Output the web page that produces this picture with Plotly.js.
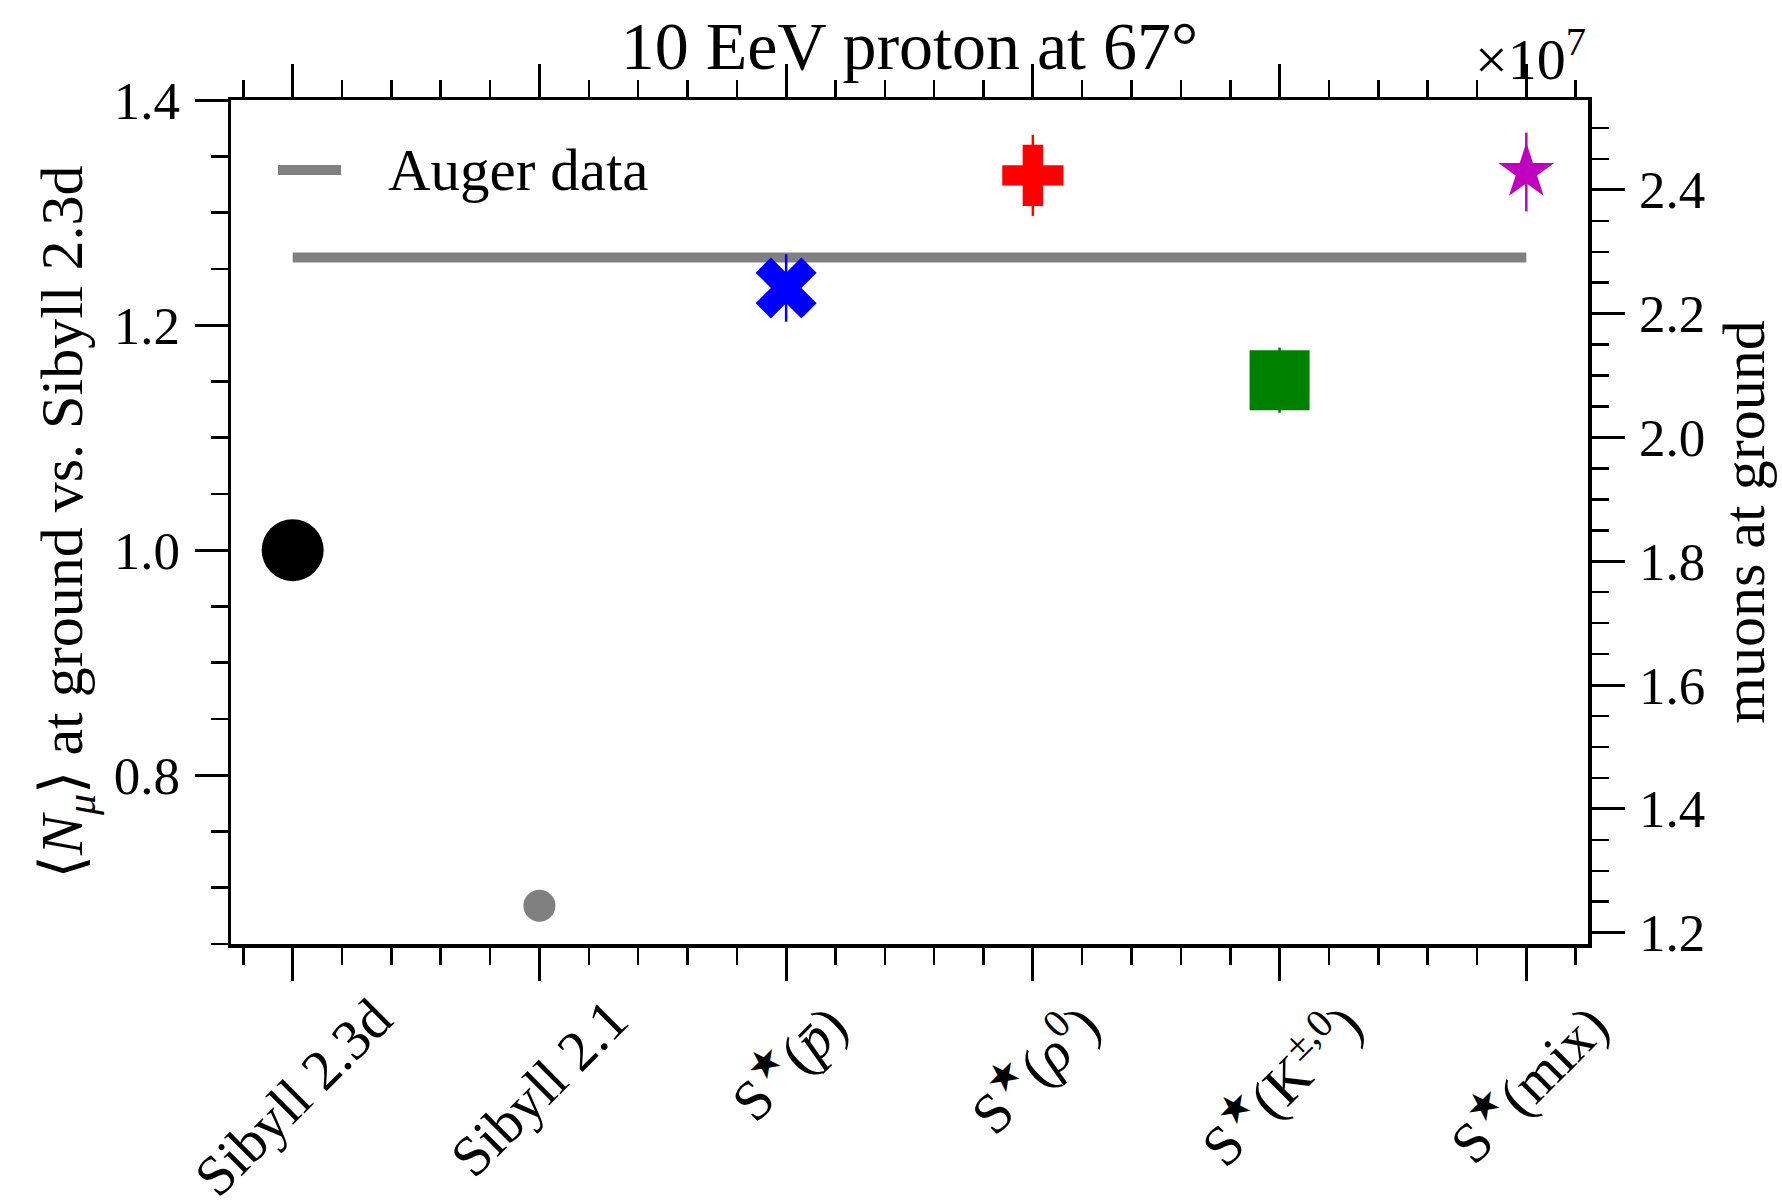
<!DOCTYPE html>
<html>
<head>
<meta charset="utf-8">
<script src="https://cdn.plot.ly/plotly-3.0.1.min.js"></script>
<style>html,body{margin:0;padding:0;background:#fff;}</style>
</head>
<body>
<div id="chart" style="width:1782px;height:1201px;"></div>
<script>
// Hadronic interaction models compared
const models = [
  "Sibyll 2.3d",
  "Sibyll 2.1",
  "S<sup>★</sup>(<i>p̄</i>)",
  "S<sup>★</sup>(<i>ρ</i><sup>0</sup>)",
  "S<sup>★</sup>(K<sup>±,0</sup>)",
  "S<sup>★</sup>(mix)"
];
// Mean muon number at ground, relative to Sibyll 2.3d
const muonRatio    = [1.000, 0.684, 1.233, 1.333, 1.151, 1.336];
const muonRatioErr = [0.000, 0.000, 0.030, 0.036, 0.029, 0.035];
// Marker style per model
const markerColors  = ["#000000", "#808080", "#0000ff", "#ff0000", "#008000", "#bf00bf"];
const markerSymbols = ["circle", "circle", "x", "cross", "square", "star"];
const markerSizes   = [62, 32, 54, 51, 60, 42];
// Auger measurement on the same relative scale
const augerRatio = 1.26;
const augerLabel = "Auger data";
// Absolute muon number for Sibyll 2.3d, sets the right-hand axis
const muonsSibyll23d = 1.818e7;
const rightAxisUnit = 1e7;
const ratioRange = [0.65, 1.4];

const serif = "'Liberation Serif', 'DejaVu Serif', serif";
const idx = models.map((_, i) => i);

const traces = [];
// Auger reference line spanning all models
traces.push({
  x: [idx[0], idx[idx.length - 1]],
  y: [augerRatio, augerRatio],
  mode: "lines",
  line: {color: "#808080", width: 10},
  name: augerLabel,
  showlegend: false,
  hoverinfo: "skip"
});
idx.forEach(i => {
  traces.push({
    x: [i],
    y: [muonRatio[i]],
    mode: "markers",
    marker: {color: markerColors[i], symbol: markerSymbols[i], size: markerSizes[i], line: {width: 0}},
    error_y: {type: "data", array: [muonRatioErr[i]], visible: true, color: markerColors[i], thickness: 2.5, width: 0},
    showlegend: false,
    name: models[i]
  });
});
// Absolute muon numbers (units of 1e7) on the right-hand axis; same points, kept transparent
traces.push({
  x: idx,
  y: muonRatio.map(r => r * muonsSibyll23d / rightAxisUnit),
  yaxis: "y2",
  mode: "markers",
  marker: {size: 1, opacity: 0},
  showlegend: false,
  hoverinfo: "skip"
});

const tickFont = {family: serif, size: 53, color: "#000"};
const commonAxis = {
  showgrid: false, zeroline: false, showline: true, linecolor: "#000", linewidth: 3.5,
  ticks: "outside", ticklen: 33, tickwidth: 3, tickcolor: "#000", tickfont: tickFont
};
const minorY = {dtick: 0.05, tick0: 0, ticks: "outside", ticklen: 17, tickwidth: 2.5, tickcolor: "#000", showgrid: false};

// Category labels under the axis, rotated
const catLabels = idx.map(i => ({
  x: i, xref: "x", y: 0, yref: "paper",
  xanchor: "center", yanchor: "top", yshift: -40,
  textangle: -45, showarrow: false,
  text: models[i], font: {family: serif, size: 57, color: "#000"}
}));

const layout = {
  width: 1782, height: 1201,
  margin: {l: 231, r: 194, t: 100, b: 257},
  paper_bgcolor: "#fff", plot_bgcolor: "#fff",
  font: {family: serif, color: "#000"},
  showlegend: false,
  title: {
    text: "10 EeV proton at 67°",
    font: {family: serif, size: 68, color: "#000"},
    x: 0.5, xref: "paper", xanchor: "center",
    y: 1 - 45 / 1201, yref: "container", yanchor: "middle"
  },
  xaxis: Object.assign({}, commonAxis, {
    range: [-0.25, 5.25], tickmode: "array", tickvals: idx, showticklabels: false,
    mirror: "ticks",
    minor: {dtick: 0.2, tick0: 0, ticks: "outside", ticklen: 17, tickwidth: 2.5, tickcolor: "#000", showgrid: false}
  }),
  yaxis: Object.assign({}, commonAxis, {
    range: ratioRange, tick0: 0, dtick: 0.2, tickformat: ".1f",
    ticklabelstandoff: 4,
    minor: minorY,
    title: {text: "⟨<i>N</i><sub><i>μ</i></sub>⟩ at ground vs. Sibyll 2.3d", font: {family: serif, size: 60, color: "#000"}, standoff: 12}
  }),
  yaxis2: Object.assign({}, commonAxis, {
    overlaying: "y", side: "right", anchor: "x",
    range: ratioRange.map(v => v * muonsSibyll23d / rightAxisUnit),
    tick0: 0, dtick: 0.2, tickformat: ".1f",
    ticklabelstandoff: 4,
    minor: minorY,
    title: {text: "muons at ground", font: {family: serif, size: 60, color: "#000"}, standoff: 18}
  }),
  shapes: [
    // legend key for the Auger line
    {type: "line", xref: "paper", yref: "paper", x0: 0.0346, x1: 0.0811, y0: 0.917, y1: 0.917,
     line: {color: "#808080", width: 10}}
  ],
  annotations: catLabels.concat([
    {x: 0.1142, xref: "paper", y: 0.917, yref: "paper", xanchor: "left", yanchor: "middle",
     showarrow: false, text: augerLabel, font: {family: serif, size: 59, color: "#000"}},
    {x: 1, xref: "paper", y: 1, yref: "paper", xanchor: "right", yanchor: "bottom", yshift: 6,
     showarrow: false, text: "×10<sup>7</sup>", font: {family: serif, size: 58, color: "#000"}}
  ])
};

Plotly.newPlot("chart", traces, layout, {displayModeBar: false, staticPlot: true});
</script>
</body>
</html>
